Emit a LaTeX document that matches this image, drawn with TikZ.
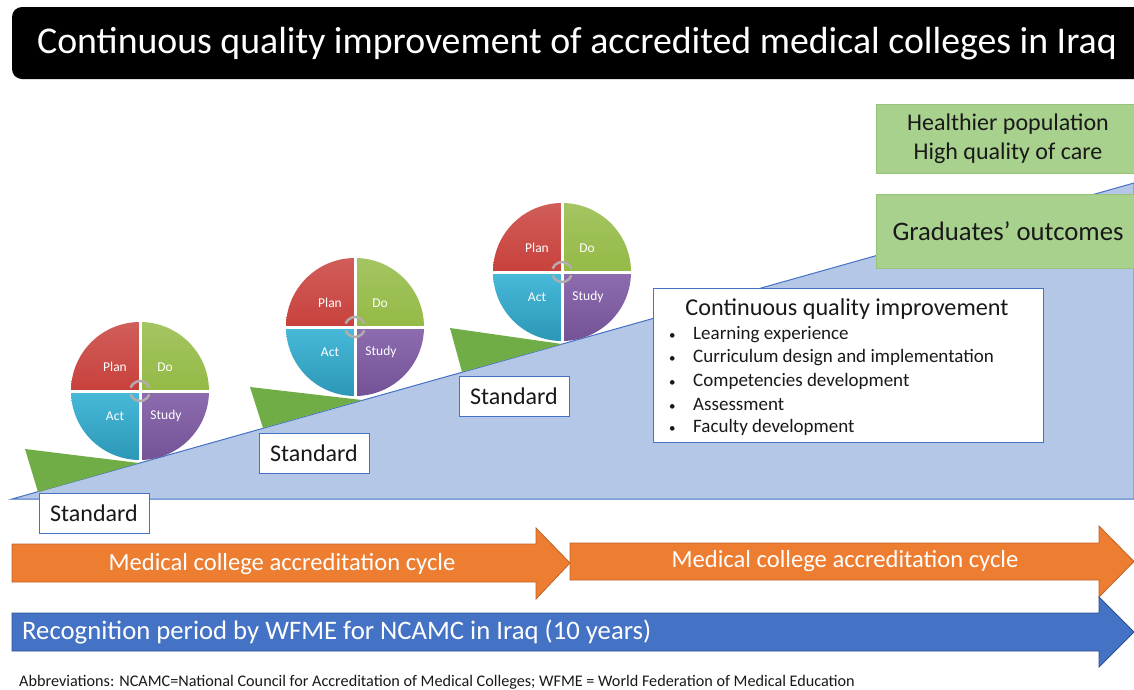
\documentclass[tikz,border=0pt]{standalone}
\usepackage{fontspec}
\setmainfont{Carlito}
\usepackage{xcolor}
\definecolor{slopeblue}{RGB}{180,199,231}
\definecolor{edgeblue}{RGB}{68,114,196}
\definecolor{wedgegreen}{RGB}{112,173,71}
\definecolor{boxgreen}{RGB}{169,209,142}
\definecolor{boxgreenedge}{RGB}{150,195,120}
\definecolor{cycleorange}{RGB}{237,125,49}
\definecolor{cycleorangeedge}{RGB}{190,100,40}
\definecolor{periodblue}{RGB}{68,114,196}
\definecolor{periodblueedge}{RGB}{47,82,143}
\definecolor{planred}{RGB}{200,65,60}
\definecolor{dogreen}{RGB}{148,186,70}
\definecolor{actcyan}{RGB}{52,178,214}
\definecolor{studypurple}{RGB}{128,92,166}
\definecolor{hubgray}{RGB}{178,172,172}
\definecolor{inktext}{RGB}{25,25,25}
\usepackage{tikz}
\usetikzlibrary{positioning}
\tikzset{
    standardbox/.style={
        draw=edgeblue,
        fill=white,
        line width=1pt,
        minimum width=110pt,
        minimum height=40pt,
        inner sep=0pt,
        text=inktext,
        font=\fontsize{24}{28}\selectfont
    },
    outcomebox/.style={
        draw=boxgreenedge,
        fill=boxgreen,
        line width=0.8pt,
        minimum width=264pt,
        align=center,
        inner sep=0pt,
        text=inktext
    },
    pdcalabel/.style={
        text=white,
        inner sep=0pt,
        font=\fontsize{13.5}{15}\selectfont
    },
    bandtext/.style={
        text=white,
        inner sep=0pt
    },
    cqiitem/.style={
        anchor=west,
        inner sep=0pt,
        text=inktext,
        font=\fontsize{19}{23}\selectfont
    }
}

\begin{document}
\begin{tikzpicture}[x=1pt, y=-1pt]

\useasboundingbox (0,0) rectangle (1134,689);
\fill[white] (0,0) rectangle (1134,689);
\clip (0,0) rectangle (1134,689);

% ---------------------------------------------------------
% Title
% ---------------------------------------------------------

\fill[black, rounded corners=10pt] (12,7) rectangle (1150,79);
\node[bandtext, font=\fontsize{37.8}{42}\selectfont] (title) at (577,44)
    {Continuous quality improvement of accredited medical colleges in Iraq};

% ---------------------------------------------------------
% Slope and standards
% ---------------------------------------------------------

% rising slope
\filldraw[fill=slopeblue, draw=edgeblue, line width=1pt]
    (12,499) -- (1134,183) -- (1134,499) -- cycle;

% green wedges under each wheel
\fill[wedgegreen] (25,449) -- (139,463) -- (38,492) -- cycle;
\fill[wedgegreen] (250,387) -- (362,400) -- (263,428) -- cycle;
\fill[wedgegreen] (450,328) -- (562,344) -- (462,372) -- cycle;

% PDCA wheels
\foreach \w/\cx/\cy in {1/140/391, 2/355/327, 3/562/272}{
    \coordinate (wheel\w) at (\cx,\cy);
    \path[top color=planred!85!white, bottom color=planred]
        (wheel\w) -- ++(180:69pt) arc[start angle=180, end angle=90, radius=69pt] -- cycle;
    \path[top color=dogreen!85!white, bottom color=dogreen]
        (wheel\w) -- ++(90:69pt) arc[start angle=90, end angle=0, radius=69pt] -- cycle;
    \path[top color=studypurple!90!white, bottom color=studypurple!90!black]
        (wheel\w) -- ++(0:69pt) arc[start angle=0, end angle=-90, radius=69pt] -- cycle;
    \path[top color=actcyan!90!white, bottom color=actcyan!85!black]
        (wheel\w) -- ++(-90:69pt) arc[start angle=-90, end angle=-180, radius=69pt] -- cycle;
    \draw[white, line width=3pt] (wheel\w) ++(-70,0) -- ++(140,0);
    \draw[white, line width=3pt] (wheel\w) ++(0,-70) -- ++(0,140);
    \draw[hubgray, line width=2.5pt] (wheel\w) ++(20:10pt) arc[start angle=20, end angle=160, radius=10pt];
    \draw[hubgray, line width=2.5pt] (wheel\w) ++(200:10pt) arc[start angle=200, end angle=340, radius=10pt];
    \path (wheel\w) ++(-25,-24) node[pdcalabel] (plan\w) {Plan};
    \path (wheel\w) ++(25,-24) node[pdcalabel] (do\w) {Do};
    \path (wheel\w) ++(-25,25) node[pdcalabel] (act\w) {Act};
    \path (wheel\w) ++(26,25) node[pdcalabel] (study\w) {Study};
}

% standard labels
\node[standardbox] (std1) at (94,513) {Standard};
\node[standardbox] (std2) at (314,453) {Standard};
\node[standardbox] (std3) at (514,396) {Standard};

% ---------------------------------------------------------
% Continuous quality improvement box
% ---------------------------------------------------------

\node[draw=edgeblue, fill=white, line width=1pt, minimum width=390pt,
      minimum height=154pt] (cqibox) at (848,365) {};
\node[inner sep=0pt, text=inktext, font=\fontsize{24.2}{28}\selectfont]
    (cqititle) at (847,309) {Continuous quality improvement};
\foreach \item [count=\i] in {Learning experience,
    Curriculum design and implementation,
    Competencies development,
    Assessment,
    Faculty development}{
    \node[cqiitem] (item\i) at (669,{312+23*\i})
        {\makebox[24pt][l]{\fontsize{13}{13}\selectfont\textbullet}\item};
}

% ---------------------------------------------------------
% Outcomes
% ---------------------------------------------------------

\node[outcomebox, minimum height=69pt, font=\fontsize{24}{29}\selectfont]
    (health) at (1008,138.5) {Healthier population\\High quality of care};
\node[outcomebox, minimum height=74pt, font=\fontsize{26.7}{31}\selectfont]
    (grad) at (1008,231) {Graduates’ outcomes};

% ---------------------------------------------------------
% Cycles and recognition period
% ---------------------------------------------------------

\filldraw[fill=cycleorange, draw=cycleorangeedge, line width=0.8pt]
    (12,544) -- (536,544) -- (536,528) -- (570,563)
    -- (536,599) -- (536,582) -- (12,582) -- cycle;
\filldraw[fill=cycleorange, draw=cycleorangeedge, line width=0.8pt]
    (570,543) -- (1099,543) -- (1099,526) -- (1134,561.5)
    -- (1099,597) -- (1099,580) -- (570,580) -- cycle;
\filldraw[fill=periodblue, draw=periodblueedge, line width=0.8pt]
    (12,613) -- (1099,613) -- (1099,597) -- (1134,632)
    -- (1099,667) -- (1099,651) -- (12,651) -- cycle;

\node[bandtext, font=\fontsize{24.6}{28}\selectfont] (cycle1) at (282,564)
    {Medical college accreditation cycle};
\node[bandtext, font=\fontsize{24.6}{28}\selectfont] (cycle2) at (845,561)
    {Medical college accreditation cycle};
\node[bandtext, anchor=west, font=\fontsize{26.7}{30}\selectfont] (period) at (22,632)
    {Recognition period by WFME for NCAMC in Iraq (10 years)};

% footnote
\node[anchor=west, inner sep=0pt, text=inktext, font=\fontsize{16.2}{19}\selectfont]
    (abbrev) at (19,682)
    {Abbreviations: NCAMC=National Council for Accreditation of Medical Colleges; WFME = World Federation of Medical Education};

\end{tikzpicture}
\end{document}
